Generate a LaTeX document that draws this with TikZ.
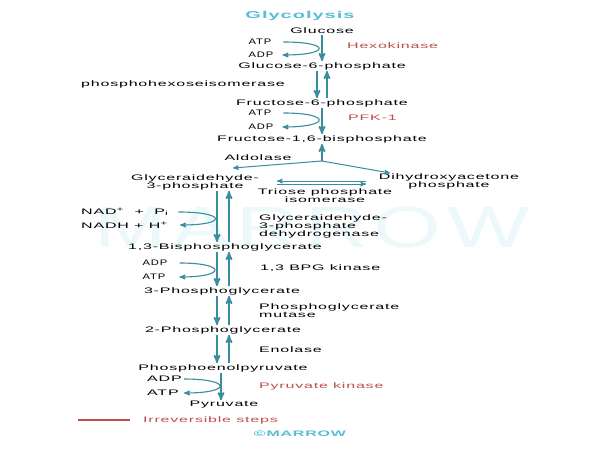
\documentclass[tikz,border=0pt]{standalone}
\usepackage{fontspec}
\setmainfont{Liberation Sans}[FakeStretch=2,LetterSpace=10]
\newfontfamily\markfont{Liberation Sans}[FakeStretch=1.5,LetterSpace=10]
\newfontfamily\capfont{Liberation Sans}[FakeStretch=1.4,LetterSpace=10]
\usepackage{xcolor}
\usetikzlibrary{arrows,positioning}
\definecolor{pathblue}{RGB}{58,141,156}
\definecolor{enzred}{RGB}{189,78,72}
\definecolor{titleblue}{RGB}{86,190,214}
\definecolor{markblue}{RGB}{236,248,250}

\begin{document}
\begin{tikzpicture}[x=1pt,y=-1pt,>=stealth',
    every node/.style={font=\fontsize{8}{8}\selectfont,inner sep=1pt},
    met/.style={align=center},
    cof/.style={font=\capfont\fontsize{8}{8}\selectfont},
    enz/.style={anchor=west,align=left},
    key/.style={enz,text=enzred},
    main/.style={->,draw=pathblue,line width=1.7pt},
    side/.style={->,draw=pathblue,line width=1.1pt},
    thin/.style={->,draw=pathblue,line width=1pt}]
  \fill[white] (0,0) rectangle (600,450);
  \useasboundingbox (0,0) rectangle (600,450);
  \node[text=markblue,font=\markfont\fontsize{58}{58}\selectfont] (mark) at (312,228) {MARROW};
  \node[text=titleblue,font=\bfseries\fontsize{10}{10}\selectfont] (title) at (300,16) {Glycolysis};

  % Axes
  \coordinate (dnA) at (317,0);
  \coordinate (upA) at (327,0);
  \coordinate (dn) at (217,0);
  \coordinate (up) at (229,0);
  \coordinate (mid) at (221,0);
  \coordinate (fork) at (322,161);
  \coordinate (g3pend) at (233,168);
  \coordinate (dhapend) at (390,173);
  \coordinate (tpl) at (277,181);
  \coordinate (tpr) at (366,181);

  % Metabolites
  \node[met] (glc) at (322,31) {Glucose};
  \node[met] (g6p) at (322,66) {Glucose-6-phosphate};
  \node[met] (f6p) at (322,103) {Fructose-6-phosphate};
  \node[met] (f16bp) at (322,139) {Fructose-1,6-bisphosphate};
  \node[met] (g3p) at (195,182) {Glyceraidehyde-\\3-phosphate};
  \node[met] (dhap) at (449,181) {Dihydroxyacetone\\phosphate};
  \node[met] (bpg) at (225,247) {1,3-Bisphosphoglycerate};
  \node[met] (pg3) at (222,291) {3-Phosphoglycerate};
  \node[met] (pg2) at (223,330) {2-Phosphoglycerate};
  \node[met] (pep) at (223,368) {Phosphoenolpyruvate};
  \node[met] (pyr) at (224,405) {Pyruvate};

  % Cofactors
  \node[cof] (atp1) at (260,42) {ATP};
  \node[cof] (adp1) at (261,55) {ADP};
  \node[cof] (atp2) at (260,113) {ATP};
  \node[cof] (adp2) at (261,127) {ADP};
  \node[anchor=west] (nad) at (80,212) {NAD\textsuperscript{+} \ + \ P\textsubscript{i}};
  \node[anchor=west] (nadh) at (80,225) {NADH + H\textsuperscript{+}};
  \node[cof] (adp3) at (155,263) {ADP};
  \node[cof] (atp3) at (154,277) {ATP};
  \node[anchor=west] (adp4) at (146,379) {ADP};
  \node[anchor=west] (atp4) at (146,393) {ATP};

  % Enzymes
  \node[key] (hk) at (346,46) {Hexokinase};
  \node[enz] (phi) at (80,84) {phosphohexoseisomerase};
  \node[key] (pfk) at (347,118) {PFK-1};
  \node (ald) at (258,158) {Aldolase};
  \node[met] (tpi) at (325,196) {Triose phosphate\\isomerase};
  \node[enz] (gapdh) at (258,226) {Glyceraidehyde-\\3-phosphate\\dehydrogenase};
  \node[enz] (pgk) at (259,268) {1,3 BPG kinase};
  \node[enz] (pgm) at (258,311) {Phosphoglycerate\\mutase};
  \node[enz] (eno) at (258,350) {Enolase};
  \node[key] (pk) at (258,386) {Pyruvate kinase};
  \node[key] (leg) at (142,420) {Irreversible steps};
  \coordinate (la) at (78,420);
  \node[text=titleblue,font=\bfseries\fontsize{8}{8}\selectfont] (copy) at (300,434) {\copyright MARROW};

  % Edges
  \draw[main] (glc) -- (g6p);
  \draw[side] ([xshift=11pt]atp1.east) .. controls +(48,0) and +(48,0) .. ([xshift=8pt]adp1.east);
  \draw[main] (g6p.south -| dnA) -- (f6p.north -| dnA);
  \draw[main] (f6p.north -| upA) -- (g6p.south -| upA);
  \draw[main] (f6p) -- (f16bp);
  \draw[side] ([xshift=11pt]atp2.east) .. controls +(48,0) and +(48,0) .. ([xshift=8pt]adp2.east);
  \draw[main] (fork) -- (f16bp);
  \draw[thin] (fork) -- (g3pend);
  \draw[thin] (fork) -- (dhapend);
  \draw[thin] (tpr) -- (tpl);
  \draw[thin] ([yshift=-3pt]tpl) -- ([yshift=-3pt]tpr);
  \draw[main] (g3p.south -| dn) -- (bpg.north -| dn);
  \draw[main] (bpg.north -| up) -- (g3p.south -| up);
  \draw[side] ([xshift=9pt]nad.east) .. controls +(48,0) and +(48,0) .. ([xshift=11pt]nadh.east);
  \draw[main] (bpg.south -| dn) -- (pg3.north -| dn);
  \draw[main] (pg3.north -| up) -- (bpg.south -| up);
  \draw[side] ([xshift=11pt]adp3.east) .. controls +(47,0) and +(47,0) .. ([xshift=13pt]atp3.east);
  \draw[main] (pg3.south -| dn) -- (pg2.north -| dn);
  \draw[main] (pg2.north -| up) -- (pg3.south -| up);
  \draw[main] (pg2.south -| dn) -- (pep.north -| dn);
  \draw[main] (pep.north -| up) -- (pg2.south -| up);
  \draw[main] (pep.south -| mid) -- (pyr.north -| mid);
  \draw[side] ([xshift=1pt]adp4.east) .. controls +(48,0) and +(48,0) .. ([xshift=4pt]atp4.east);
  \draw[enzred,line width=1.2pt] (la) -- ++(52,0);
\end{tikzpicture}
\end{document}
